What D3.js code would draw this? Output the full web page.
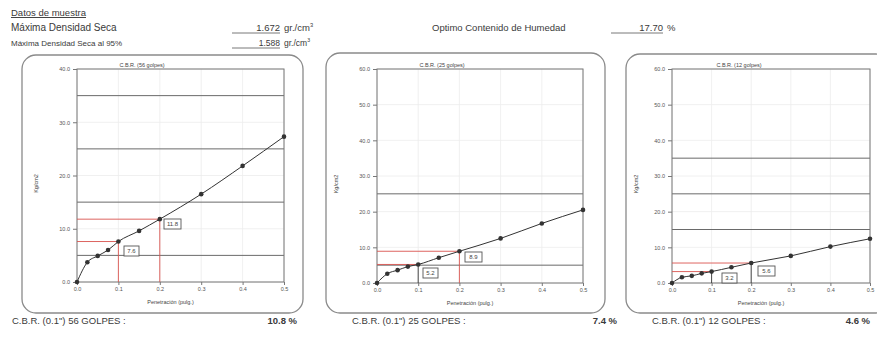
<!DOCTYPE html>
<html>
<head>
<meta charset="utf-8">
<script src="https://cdn.jsdelivr.net/npm/d3@7/dist/d3.min.js"></script>
<style>
  html, body { margin: 0; padding: 0; background: #fff; }
  svg { display: block; font-family: "Liberation Sans", Arial, sans-serif; }
</style>
</head>
<body>
<svg id="chart" width="877" height="338"></svg>
<script>
// Penetration readings (inches) shared by the three CBR specimens
const penetration = [0, 0.025, 0.05, 0.075, 0.1, 0.15, 0.2, 0.3, 0.4, 0.5];
// Load (kg/cm2) for each compaction energy
const load56 = [0, 3.7, 4.9, 6.0, 7.6, 9.6, 11.8, 16.5, 21.8, 27.3];
const load25 = [0, 2.6, 3.6, 4.6, 5.2, 7.1, 8.9, 12.5, 16.7, 20.5];
const load12 = [0, 1.6, 2.0, 2.7, 3.2, 4.4, 5.6, 7.6, 10.2, 12.4];

const blows = ["56", "25", "12"];
const cbrValues = ["10.8", "7.4", "4.6"];
const xTicks = [0, 0.1, 0.2, 0.3, 0.4, 0.5];
const yTicks56 = [0, 10, 20, 30, 40];
const yTicks25 = [0, 10, 20, 30, 40, 50, 60];
const yTicks12 = [0, 10, 20, 30, 40, 50, 60];
const gridLines56 = [5, 15, 25, 35];
const gridLines25 = [5, 25];
const gridLines12 = [15, 25, 35];

// Sample data header
const maxDryDensity = "1.672";
const maxDryDensity95 = "1.588";
const optimumMoisture = "17.70";

const svg = d3.select("#chart");
const ink = "#3a3a3a";

// ---- header block ----
const head = svg.append("g").attr("fill", ink);
head.append("text").attr("x", 11).attr("y", 16).attr("font-size", 9.5)
  .attr("text-decoration", "underline").text("Datos de muestra");
head.append("text").attr("x", 11).attr("y", 31).attr("font-size", 10)
  .text("Máxima Densidad Seca");
head.append("text").attr("x", 11).attr("y", 46).attr("font-size", 8)
  .text("Máxima Densidad Seca  al 95%");

function valueField(y, xLineStart, xLineEnd, value, unitX, unit, size) {
  head.append("line").attr("x1", xLineStart).attr("x2", xLineEnd)
    .attr("y1", y + 2).attr("y2", y + 2).attr("stroke", "#555").attr("stroke-width", 0.8);
  head.append("text").attr("x", xLineEnd).attr("y", y).attr("text-anchor", "end")
    .attr("font-size", size).text(value);
  const u = head.append("text").attr("x", unitX).attr("y", y).attr("font-size", size);
  u.append("tspan").text(unit.main);
  if (unit.sup) u.append("tspan").attr("dy", -4).attr("font-size", size * 0.6).text(unit.sup);
}
valueField(31, 232, 280, maxDryDensity, 284, { main: "gr./cm", sup: "3" }, 9.5);
valueField(46, 232, 280, maxDryDensity95, 284, { main: "gr./cm", sup: "3" }, 8.5);
head.append("text").attr("x", 432).attr("y", 31).attr("font-size", 9.5)
  .text("Optimo Contenido de Humedad");
valueField(31, 611, 663, optimumMoisture, 667, { main: "%" }, 9.5);

// ---- CBR panels ----
const panels = [
  { frame: [22, 55, 303, 313], plot: [77, 69, 284, 282], values: load56, yTicks: yTicks56,
    grid: gridLines56, titleX: 142, yLabelX: 38, vColors: ["#d9534f", "#d9534f"],
    boxes: [[124, 246], [164, 219]], footX: 12, cbrX: 297 },
  { frame: [326, 53, 605, 313], plot: [377, 69, 583, 283], values: load25, yTicks: yTicks25,
    grid: gridLines25, titleX: 442, yLabelX: 338, vColors: ["#333", "#d9534f"],
    boxes: [[423, 268], [465, 252]], footX: 352, cbrX: 617 },
  { frame: [626, 54, 890, 313], plot: [672, 69, 870, 283], values: load12, yTicks: yTicks12,
    grid: gridLines12, titleX: 739, yLabelX: 638, vColors: ["#333", "#333"],
    boxes: [[722, 273], [758, 266]], footX: 652, cbrX: 870 }
];

panels.forEach((p, i) => {
  const g = svg.append("g");
  const [fx0, fy0, fx1, fy1] = p.frame;
  const [px0, py0, px1, py1] = p.plot;

  g.append("rect").attr("x", fx0).attr("y", fy0).attr("width", fx1 - fx0).attr("height", fy1 - fy0)
    .attr("rx", 14).attr("fill", "none").attr("stroke", "#8a8a8a").attr("stroke-width", 1.3);

  const yMax = d3.max(p.yTicks);
  const x = d3.scaleLinear().domain([0, 0.5]).range([px0, px1]);
  const y = d3.scaleLinear().domain([0, yMax]).range([py1, py0]);

  // faint tick grid
  g.append("g").selectAll("line.h").data(p.yTicks).join("line")
    .attr("x1", px0).attr("x2", px1).attr("y1", d => y(d)).attr("y2", d => y(d))
    .attr("stroke", "#ececec").attr("stroke-width", 0.8);
  g.append("g").selectAll("line.v").data(xTicks).join("line")
    .attr("x1", d => x(d)).attr("x2", d => x(d)).attr("y1", py0).attr("y2", py1)
    .attr("stroke", "#ececec").attr("stroke-width", 0.8);

  // darker reference lines
  g.append("g").selectAll("line").data(p.grid).join("line")
    .attr("x1", px0).attr("x2", px1).attr("y1", d => y(d)).attr("y2", d => y(d))
    .attr("stroke", "#6a6a6a").attr("stroke-width", 1);

  // plot frame
  g.append("rect").attr("x", px0).attr("y", py0).attr("width", px1 - px0).attr("height", py1 - py0)
    .attr("fill", "none").attr("stroke", "#777").attr("stroke-width", 1);

  // axes
  const yAxis = d3.axisLeft(y).tickValues(p.yTicks).tickFormat(d3.format(".1f")).tickSize(4).tickPadding(3);
  const gy = g.append("g").attr("transform", `translate(${px0},0)`).call(yAxis);
  const xAxis = d3.axisBottom(x).tickValues(xTicks).tickFormat(d3.format(".1f")).tickSize(3).tickPadding(2);
  const gx = g.append("g").attr("transform", `translate(0,${py1})`).call(xAxis);
  [gx, gy].forEach(a => {
    a.select(".domain").remove();
    a.selectAll("line").attr("stroke", "#777");
    a.selectAll("text").attr("font-size", 5.5).attr("fill", "#555")
      .attr("font-family", "'Liberation Sans', Arial, sans-serif");
  });

  // penetration readings at 0.1" and 0.2"
  [0.1, 0.2].forEach((pen, k) => {
    const idx = penetration.indexOf(pen);
    const v = p.values[idx];
    g.append("line").attr("x1", px0).attr("x2", x(pen)).attr("y1", y(v)).attr("y2", y(v))
      .attr("stroke", "#d9534f").attr("stroke-width", 0.9);
    g.append("line").attr("x1", x(pen)).attr("x2", x(pen)).attr("y1", py1).attr("y2", y(v))
      .attr("stroke", p.vColors[k]).attr("stroke-width", 0.9);
    const [bx, by] = p.boxes[k];
    const bw = k === 0 ? 15 : 17;
    g.append("rect").attr("x", bx).attr("y", by).attr("width", bw).attr("height", 10)
      .attr("fill", "#fff").attr("stroke", "#555").attr("stroke-width", 0.9);
    g.append("text").attr("x", bx + bw / 2).attr("y", by + 7.3).attr("text-anchor", "middle")
      .attr("font-size", 6).attr("fill", "#444").text(d3.format(".1f")(v));
  });

  // load curve and points
  const pts = penetration.map((d, j) => [d, p.values[j]]);
  g.append("path").datum(pts)
    .attr("d", d3.line().x(d => x(d[0])).y(d => y(d[1])).curve(d3.curveMonotoneX))
    .attr("fill", "none").attr("stroke", "#333").attr("stroke-width", 1);
  g.append("g").selectAll("circle").data(pts).join("circle")
    .attr("cx", d => x(d[0])).attr("cy", d => y(d[1])).attr("r", 2.3).attr("fill", "#333");

  // titles
  g.append("text").attr("x", p.titleX).attr("y", py0 - 2).attr("text-anchor", "middle")
    .attr("font-size", 5.5).attr("fill", "#444").text(`C.B.R. (${blows[i]} golpes)`);
  g.append("text").attr("transform", `translate(${p.yLabelX},${(py0 + py1) / 2 + 8}) rotate(-90)`)
    .attr("text-anchor", "middle").attr("font-size", 5.5).attr("fill", "#444").text("Kg/cm2");
  g.append("text").attr("x", (px0 + px1) / 2 - 10).attr("y", py1 + 22).attr("text-anchor", "middle")
    .attr("font-size", 5.5).attr("fill", "#444").text("Penetración (pulg.)");

  // CBR result line
  g.append("text").attr("x", p.footX).attr("y", 324).attr("font-size", 9.5).attr("fill", ink)
    .text(`C.B.R. (0.1") ${blows[i]} GOLPES :`);
  g.append("text").attr("x", p.cbrX).attr("y", 324).attr("text-anchor", "end")
    .attr("font-size", 9.5).attr("font-weight", "bold").attr("fill", ink)
    .text(`${cbrValues[i]} %`);
});
</script>
</body>
</html>
